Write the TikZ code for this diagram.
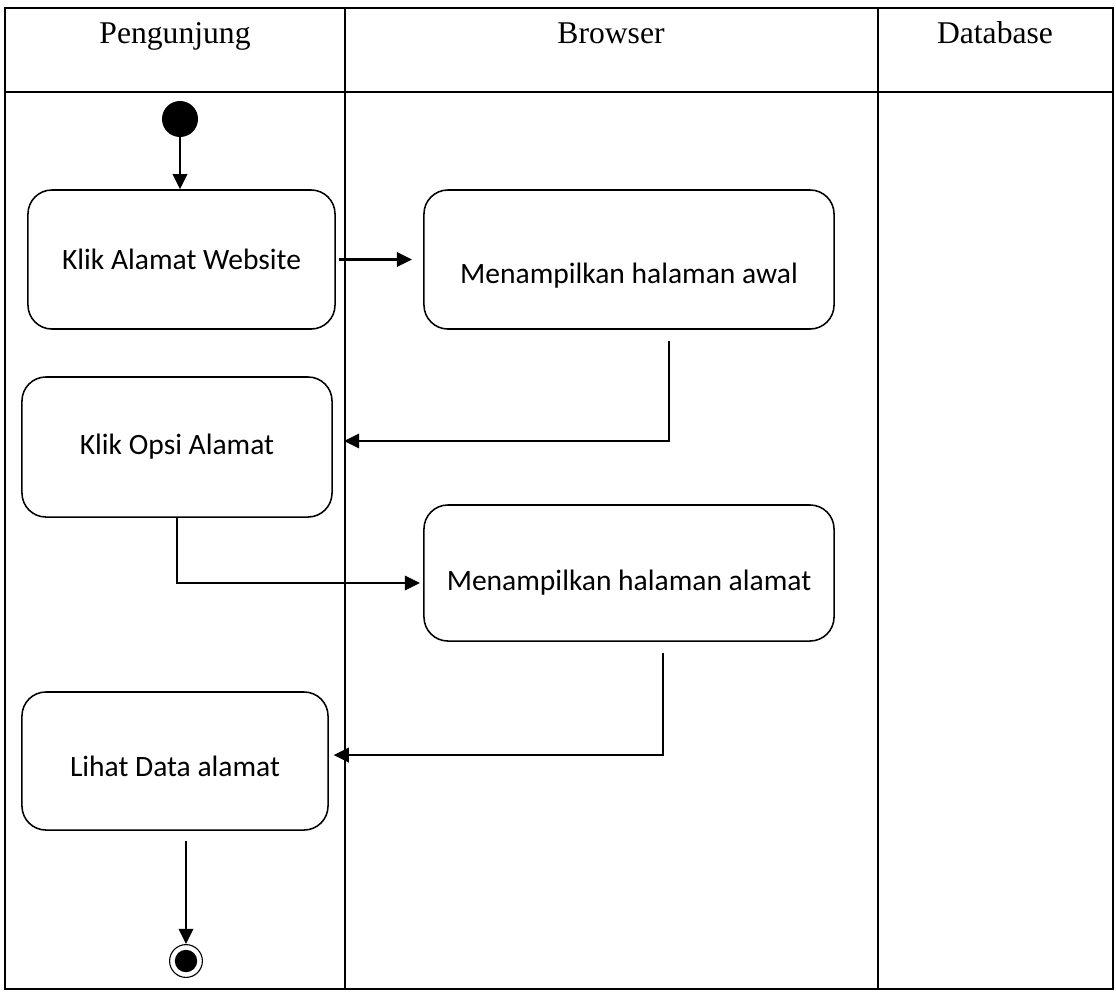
\documentclass[tikz,border=0pt]{standalone}
\usepackage{fontspec}
\setmainfont{Liberation Serif}
\newfontfamily\calibri{Carlito}
\usetikzlibrary{arrows.meta}

\begin{document}
\begin{tikzpicture}[x=0.025cm,y=-0.025cm]
		\tikzstyle{act}=[draw,rounded corners=0.6cm,line width=1.1pt,align=center,font=\calibri\fontsize{21}{25}\selectfont,inner sep=0]
		\tikzstyle{lane}=[anchor=base,font=\fontsize{22.5}{27}\selectfont]
		\tikzstyle{edge}=[-{Triangle[length=0.38cm,width=0.36cm]},line width=1.7pt]
		
		\useasboundingbox (0,0) rectangle (1116,992);
		
		% swimlanes
		\draw[line width=1.2pt] (5,8) rectangle (1113,989);
		\draw[line width=1.2pt] (345,8) -- (345,989);
		\draw[line width=1.2pt] (878,8) -- (878,989);
		\draw[line width=1.7pt] (5,92) -- (1113,92);
		\node [lane] (pengunjung) at (175,44) {Pengunjung};
		\node [lane] (browser) at (611,44) {Browser};
		\node [lane] (database) at (995,44) {Database};
		
		\node [circle,fill,inner sep=0,minimum size=0.9cm] (start) at (180,119) {};
		
		\node [act,minimum width=7.675cm,minimum height=3.475cm] (klik) at (181.5,259.5) {Klik Alamat Website};
		\node [act,minimum width=10.25cm,minimum height=3.475cm] (awal) at (629,259.5) {\raisebox{-0.6cm}[0pt][0pt]{Menampilkan halaman awal}};
		\node [act,minimum width=7.75cm,minimum height=3.5cm] (opsi) at (177,447) {Klik Opsi Alamat};
		\node [act,minimum width=10.25cm,minimum height=3.4cm] (alamat) at (629,573) {\raisebox{-0.44cm}[0pt][0pt]{Menampilkan halaman alamat}};
		\node [act,minimum width=7.65cm,minimum height=3.45cm] (lihat) at (175,761) {\raisebox{-0.39cm}[0pt][0pt]{Lihat Data alamat}};
		
		\node [circle,draw,line width=0.8pt,inner sep=0,minimum width=0.82cm,minimum height=0.72cm] (stop) at (186,961) {};
		\fill (stop) circle (0.28cm);
		
		\draw[edge] (start) -- (start |- klik.north);
		\draw[edge,shorten <=2pt,shorten >=0.28cm] (klik.east) -- (awal.west);
		\draw[edge,shorten <=0.28cm,shorten >=0.28cm] ([xshift=1cm]awal.south) |- ([yshift=0.15cm]opsi.east);
		\draw[edge,shorten >=0.08cm] (opsi.south) |- ([yshift=-0.25cm]alamat.west);
		\draw[edge,shorten <=0.28cm,shorten >=0.12cm] ([xshift=0.85cm]alamat.south) |- ([yshift=0.15cm]lihat.east);
		\draw[edge,shorten <=0.25cm] (lihat.south -| stop) -- (stop);
	\end{tikzpicture}
\end{document}
